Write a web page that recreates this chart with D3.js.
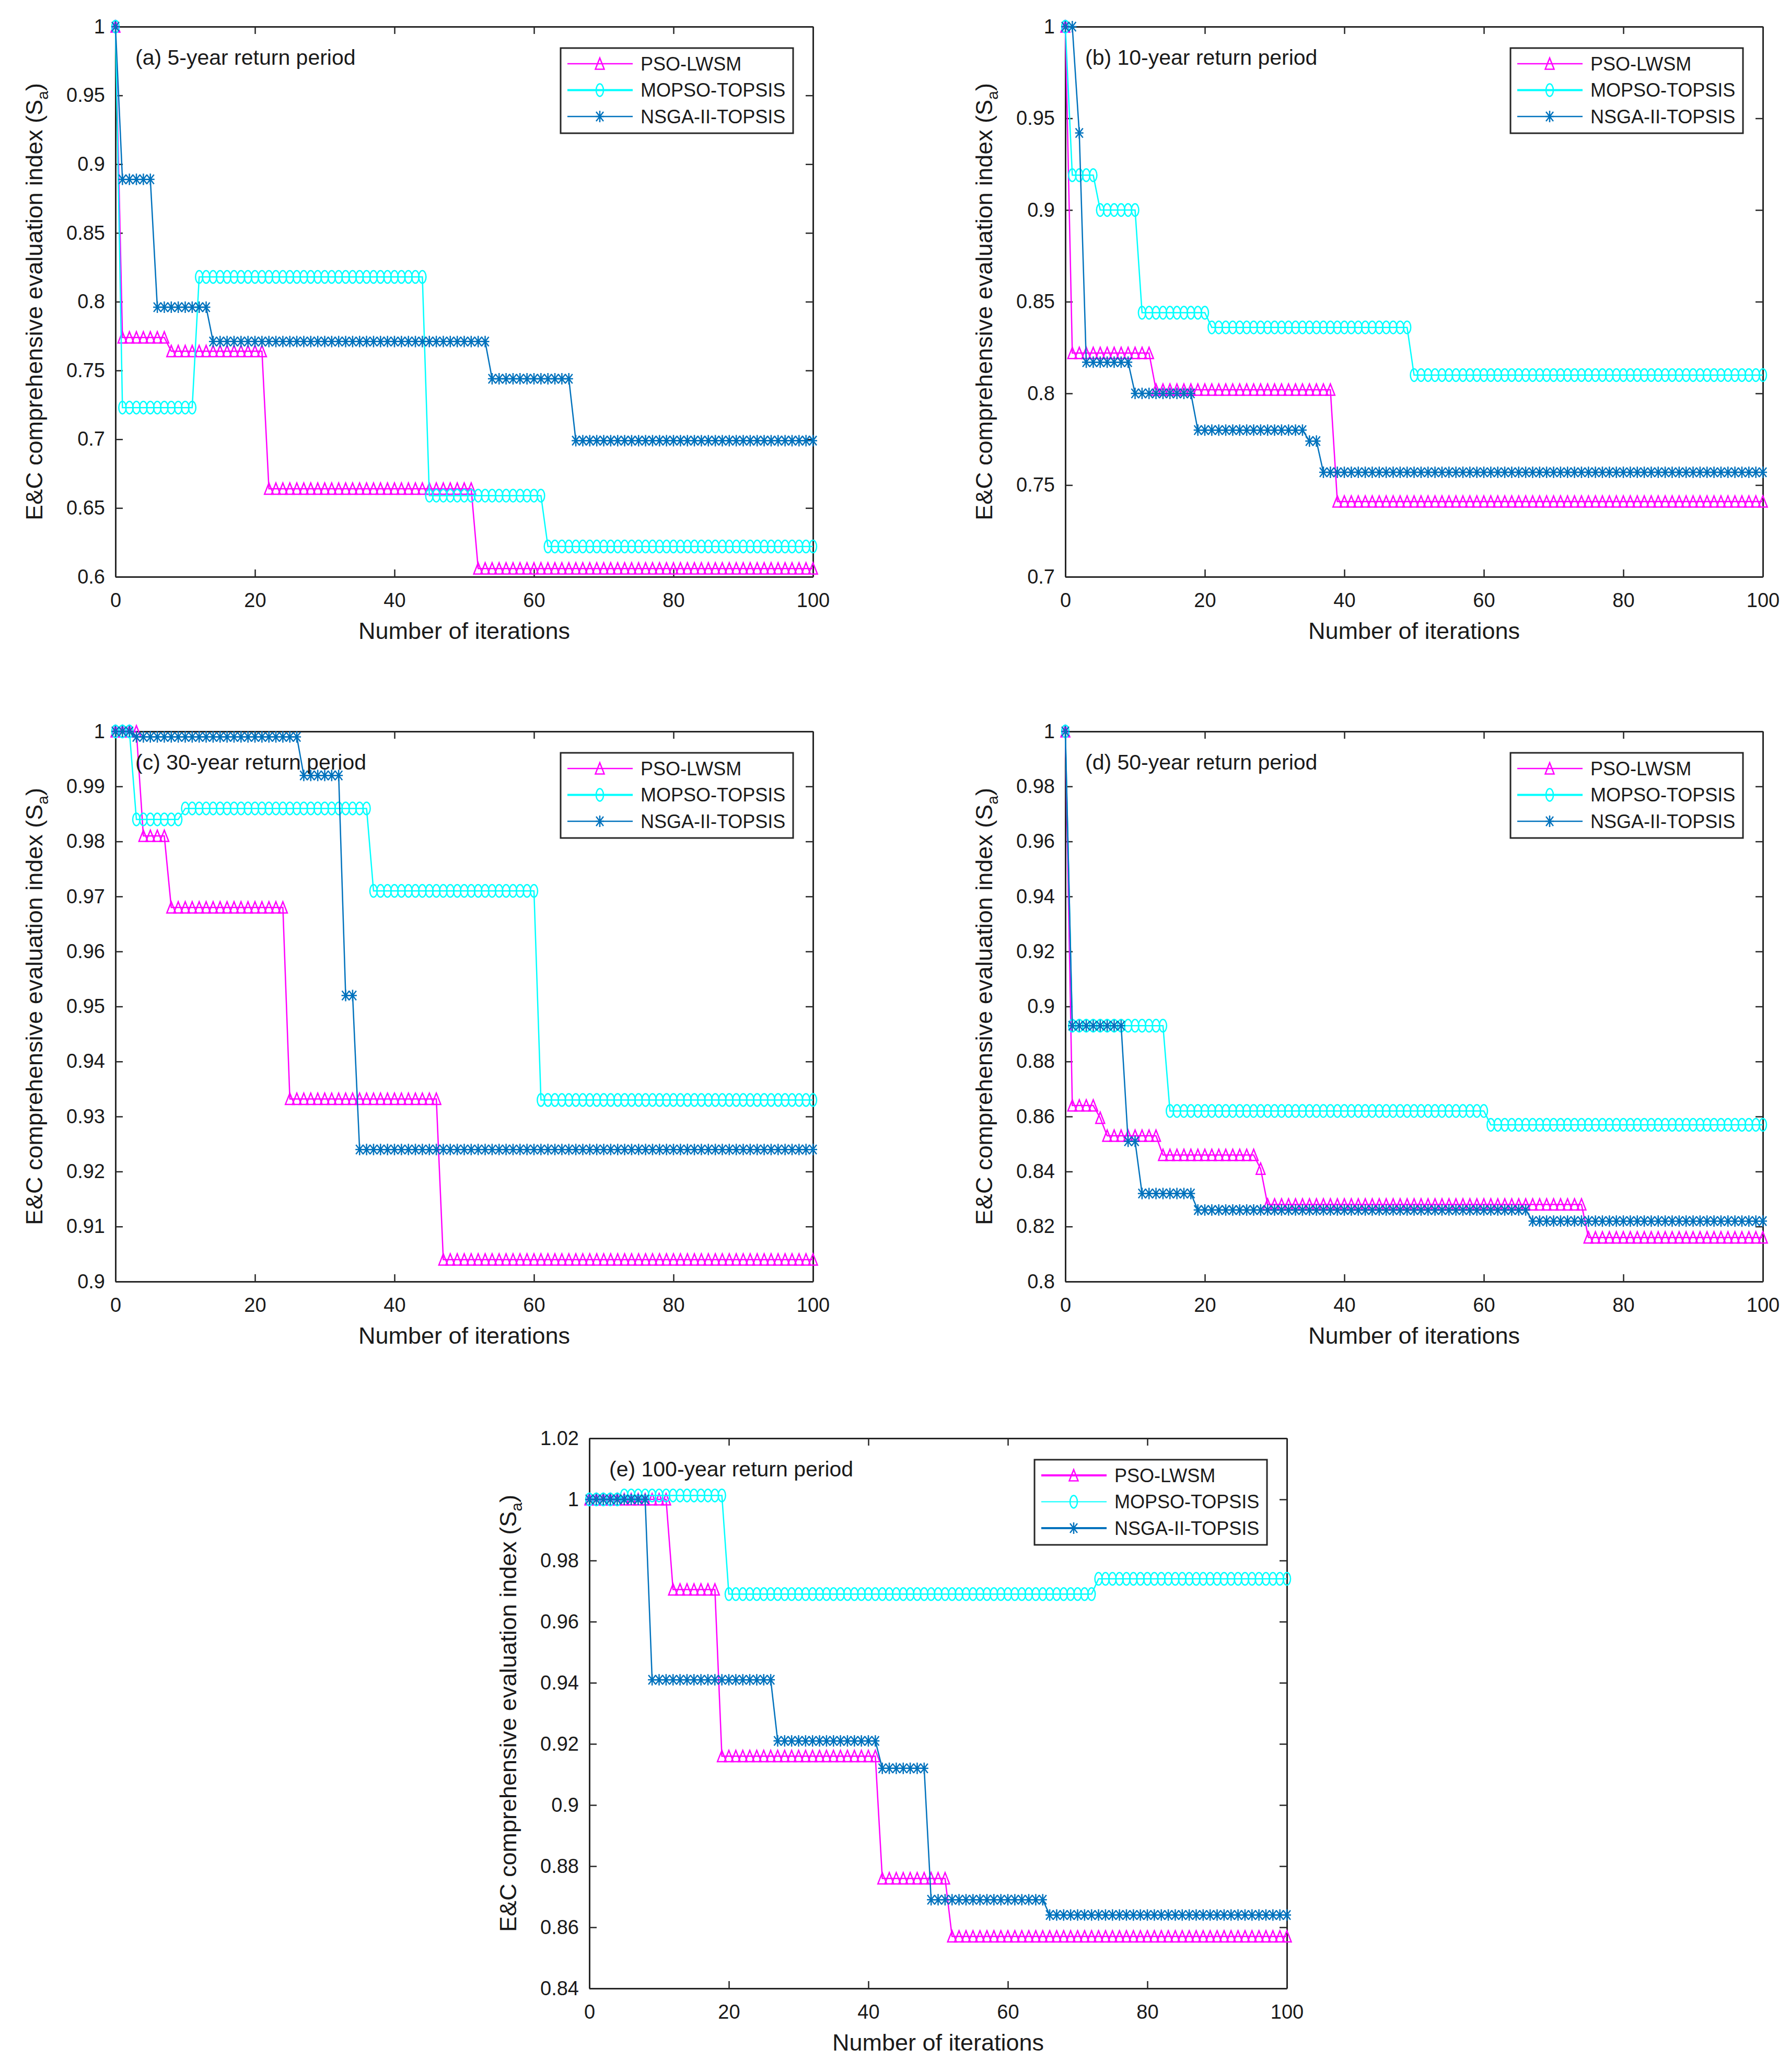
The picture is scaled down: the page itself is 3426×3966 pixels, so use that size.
<!DOCTYPE html>
<html>
<head>
<meta charset="utf-8">
<script src="https://cdn.jsdelivr.net/npm/d3@7"></script>
<style>
  html, body { margin: 0; padding: 0; background: #ffffff; }
  svg { display: block; }
  text { font-family: "Liberation Sans", Arial, Helvetica, sans-serif; fill: #1a1a1a; }
</style>
</head>
<body>
<svg id="chart" width="3426" height="3966"></svg>
<script>
// ---------------- DATA ----------------
// Each series is a list of [iteration where the value starts, value]; the value is held until the next change.
const seriesNames = ["PSO-LWSM", "MOPSO-TOPSIS", "NSGA-II-TOPSIS"];
const xTicks = [0, 20, 40, 60, 80, 100];
const iterationRange = [0, 100];
const xLabel = "Number of iterations";
const yLabelMain = "E&C comprehensive evaluation index (S";
const yLabelSub = "a";
const panelTitles = [
  "(a) 5-year return period",
  "(b) 10-year return period",
  "(c) 30-year return period",
  "(d) 50-year return period",
  "(e) 100-year return period"
];

// (a) 5-year
const psoA   = [[0, 1], [1, 0.774], [8, 0.764], [22, 0.664], [52, 0.606]];
const mopsoA = [[0, 1], [1, 0.723], [12, 0.818], [45, 0.659], [62, 0.622]];
const nsgaA  = [[0, 1], [1, 0.889], [6, 0.796], [14, 0.771], [54, 0.744], [66, 0.699]];
const yDomainA = [0.6, 1];
const yTicksA = [0.6, 0.65, 0.7, 0.75, 0.8, 0.85, 0.9, 0.95, 1];

// (b) 10-year
const psoB   = [[0, 1], [1, 0.822], [13, 0.802], [39, 0.741]];
const mopsoB = [[0, 1], [1, 0.919], [5, 0.900], [11, 0.844], [21, 0.836], [50, 0.810]];
const nsgaB  = [[0, 1], [2, 0.942], [3, 0.817], [10, 0.800], [19, 0.780], [35, 0.774], [37, 0.757]];
const yDomainB = [0.7, 1];
const yTicksB = [0.7, 0.75, 0.8, 0.85, 0.9, 0.95, 1];

// (c) 30-year
const psoC   = [[0, 1], [4, 0.981], [8, 0.968], [25, 0.9332], [47, 0.904]];
const mopsoC = [[0, 1], [3, 0.984], [10, 0.986], [37, 0.971], [61, 0.9330]];
const nsgaC  = [[0, 1], [3, 0.999], [27, 0.992], [33, 0.952], [35, 0.924]];
const yDomainC = [0.9, 1];
const yTicksC = [0.9, 0.91, 0.92, 0.93, 0.94, 0.95, 0.96, 0.97, 0.98, 0.99, 1];

// (d) 50-year
const psoD   = [[0, 1], [1, 0.864], [5, 0.8595], [6, 0.853], [14, 0.846], [28, 0.841], [29, 0.828], [75, 0.816]];
const mopsoD = [[0, 1], [1, 0.893], [15, 0.862], [61, 0.857]];
const nsgaD  = [[0, 1], [1, 0.893], [9, 0.851], [11, 0.832], [19, 0.826], [67, 0.822]];
const yDomainD = [0.8, 1];
const yTicksD = [0.8, 0.82, 0.84, 0.86, 0.88, 0.9, 0.92, 0.94, 0.96, 0.98, 1];

// (e) 100-year
const psoE   = [[0, 1], [12, 0.9705], [19, 0.916], [42, 0.876], [52, 0.857]];
const mopsoE = [[0, 1], [5, 1.0013], [20, 0.969], [73, 0.974]];
const nsgaE  = [[0, 1], [9, 0.941], [27, 0.921], [42, 0.912], [49, 0.869], [66, 0.864]];
const yDomainE = [0.84, 1.02];
const yTicksE = [0.84, 0.86, 0.88, 0.9, 0.92, 0.94, 0.96, 0.98, 1, 1.02];

// ---------------- STYLE / LAYOUT ----------------
const colors = ["#FF00FF", "#00FFFF", "#0072BD"];
const PW = 1335, PH = 1053;
const layout = [
  { left: 221,  top: 51 },
  { left: 2039, top: 51 },
  { left: 221,  top: 1400 },
  { left: 2039, top: 1400 },
  { left: 1128, top: 2753 }
];
const legendLineWidths = [
  [2.5, 4, 2.5], [2.5, 4, 2.5], [2.5, 4, 2.5], [2.5, 4, 2.5], [4, 2, 4]
];

const panels = [
  { title: panelTitles[0], series: [psoA, mopsoA, nsgaA], yDomain: yDomainA, yTicks: yTicksA },
  { title: panelTitles[1], series: [psoB, mopsoB, nsgaB], yDomain: yDomainB, yTicks: yTicksB },
  { title: panelTitles[2], series: [psoC, mopsoC, nsgaC], yDomain: yDomainC, yTicks: yTicksC },
  { title: panelTitles[3], series: [psoD, mopsoD, nsgaD], yDomain: yDomainD, yTicks: yTicksD },
  { title: panelTitles[4], series: [psoE, mopsoE, nsgaE], yDomain: yDomainE, yTicks: yTicksE }
];

// hold each value from its starting iteration until the next change
function expandSteps(steps) {
  const out = [];
  for (let k = iterationRange[0]; k <= iterationRange[1]; k++) {
    let v = steps[0][1];
    for (const s of steps) if (s[0] <= k) v = s[1];
    out.push([k, v]);
  }
  return out;
}

const fmt = v => String(+v.toFixed(3));

// marker shapes centred on (0,0)
const markerPaths = [
  "M0,-11 L8.5,10.5 L-8.5,10.5 Z",                                 // triangle
  "M-7,0 A7,12 0 1,0 7,0 A7,12 0 1,0 -7,0 Z",                      // (tall) circle
  "M0,-11 L0,11 M-8,0 L8,0 M-7,-9 L7,9 M-7,9 L7,-9"                // asterisk
];

const svg = d3.select("#chart");
svg.append("rect").attr("width", 3426).attr("height", 3966).attr("fill", "#ffffff");

const axisColor = "#262626";

panels.forEach((p, pi) => {
  const L = layout[pi];
  const g = svg.append("g").attr("transform", `translate(${L.left},${L.top})`);
  const x = d3.scaleLinear().domain(iterationRange).range([0, PW]);
  const y = d3.scaleLinear().domain(p.yDomain).range([PH, 0]);

  // axes (box with inward ticks)
  const styleAxis = sel => {
    sel.selectAll("path.domain").attr("stroke", axisColor).attr("stroke-width", 3);
    sel.selectAll(".tick line").attr("stroke", axisColor).attr("stroke-width", 2.5);
    sel.selectAll(".tick text").attr("fill", "#1a1a1a")
      .style("font-family", '"Liberation Sans", Arial, sans-serif').style("font-size", "38px");
  };
  g.append("g").attr("transform", `translate(0,${PH})`)
    .call(d3.axisBottom(x).tickValues(xTicks).tickFormat(d3.format("d")).tickSizeInner(-14).tickSizeOuter(0).tickPadding(31))
    .call(styleAxis);
  g.append("g")
    .call(d3.axisTop(x).tickValues(xTicks).tickFormat("").tickSizeInner(-14).tickSizeOuter(0))
    .call(styleAxis);
  g.append("g")
    .call(d3.axisLeft(y).tickValues(p.yTicks).tickFormat(fmt).tickSizeInner(-14).tickSizeOuter(0).tickPadding(20))
    .call(styleAxis);
  g.append("g").attr("transform", `translate(${PW},0)`)
    .call(d3.axisRight(y).tickValues(p.yTicks).tickFormat("").tickSizeInner(-14).tickSizeOuter(0))
    .call(styleAxis);

  // series
  const line = d3.line().x(d => x(d[0])).y(d => y(d[1]));
  p.series.forEach((steps, si) => {
    const pts = expandSteps(steps);
    const sg = g.append("g");
    sg.append("path").attr("d", line(pts)).attr("fill", "none")
      .attr("stroke", colors[si]).attr("stroke-width", 2.5);
    sg.selectAll("path.m").data(pts).join("path").attr("class", "m")
      .attr("transform", d => `translate(${x(d[0])},${y(d[1])})`)
      .attr("d", markerPaths[si]).attr("fill", "none")
      .attr("stroke", colors[si]).attr("stroke-width", 2.5);
  });

  // panel title
  g.append("text").attr("x", 38).attr("y", 73)
    .style("font-size", "41px").text(p.title);

  // x label
  g.append("text").attr("x", PW / 2).attr("y", PH + 119)
    .attr("text-anchor", "middle").style("font-size", "45px").text(xLabel);

  // y label with subscript
  const yl = g.append("text")
    .attr("transform", `translate(-140,${PH / 2}) rotate(-90)`)
    .attr("text-anchor", "middle").style("font-size", "45px");
  yl.append("tspan").text(yLabelMain);
  yl.append("tspan").attr("dy", 11).style("font-size", "30px").text(yLabelSub);
  yl.append("tspan").attr("dy", -11).text(")");

  // legend
  const lw = 445, lh = 163;
  const lg = g.append("g").attr("transform", `translate(${PW - 38 - lw},41)`);
  lg.append("rect").attr("width", lw).attr("height", lh).attr("fill", "#ffffff")
    .attr("stroke", axisColor).attr("stroke-width", 3);
  seriesNames.forEach((name, si) => {
    const ry = 30 + si * 50.5;
    lg.append("line").attr("x1", 13).attr("x2", 138).attr("y1", ry).attr("y2", ry)
      .attr("stroke", colors[si]).attr("stroke-width", legendLineWidths[pi][si]);
    lg.append("path").attr("transform", `translate(75,${ry})`).attr("d", markerPaths[si])
      .attr("fill", "none").attr("stroke", colors[si]).attr("stroke-width", 2.5);
    lg.append("text").attr("x", 153).attr("y", ry).attr("dy", "0.36em")
      .style("font-size", "36px").text(name);
  });
});
</script>
</body>
</html>
